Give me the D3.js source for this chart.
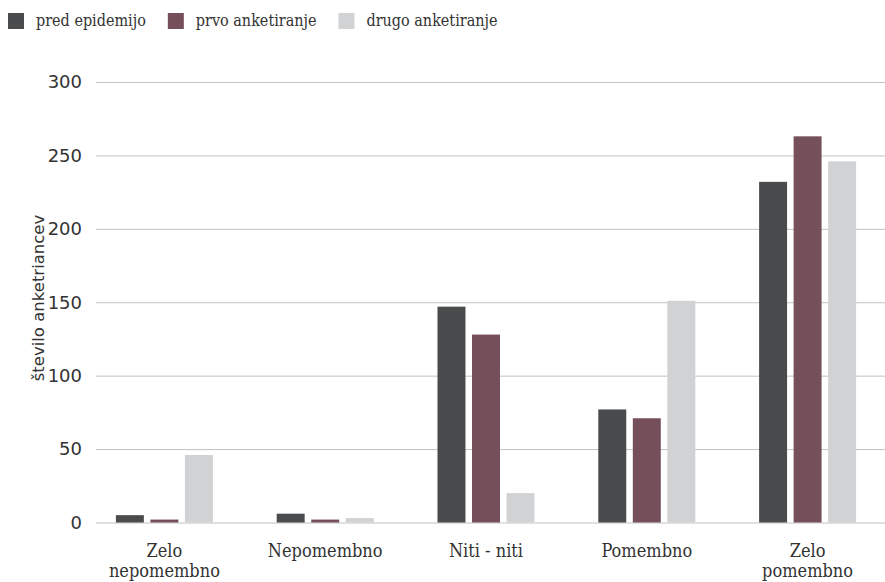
<!DOCTYPE html>
<html>
<head>
<meta charset="utf-8">
<script src="https://cdn.jsdelivr.net/npm/d3@7"></script>
<style>
  html, body { margin: 0; padding: 0; background: #fff; }
  svg { display: block; }
</style>
</head>
<body>
<div id="chart"></div>
<script>
// Pomembnost po kategorijah, trije zajemi podatkov
const categories = ["Zelo nepomembno", "Nepomembno", "Niti - niti", "Pomembno", "Zelo pomembno"];
const seriesNames = ["pred epidemijo", "prvo anketiranje", "drugo anketiranje"];
const predEpidemijo = [5, 6, 147, 77, 232];
const prvoAnketiranje = [2, 2, 128, 71, 263];
const drugoAnketiranje = [46, 3, 20, 151, 246];
const yTicks = [0, 50, 100, 150, 200, 250, 300];
const yTitle = "število anketriancev";
const colors = ["#4a4b4d", "#754f5a", "#d1d2d4"];

const seriesValues = [predEpidemijo, prvoAnketiranje, drugoAnketiranje];

const W = 885, H = 582;
const plot = { left: 96, right: 885, top: 82, bottom: 522.5 };

const svg = d3.select("#chart").append("svg")
  .attr("width", W).attr("height", H);

const x = d3.scaleBand().domain(categories).range([84, 888]).paddingInner(0).paddingOuter(0);
const groupWidth = 97;
const xs = d3.scaleBand().domain(seriesNames).range([0, groupWidth]).paddingInner(0.19);
const y = d3.scaleLinear().domain([0, 300]).range([plot.bottom, plot.top]);

const sansFont = "'DejaVu Sans', sans-serif";
const serifFont = "'DejaVu Serif Condensed', 'DejaVu Serif', serif";

// Mreža in oznake osi y
const yAxis = d3.axisLeft(y)
  .tickValues(yTicks)
  .tickSize(-(plot.right - plot.left))
  .tickPadding(14)
  .tickFormat(d3.format("d"));

const gy = svg.append("g")
  .attr("transform", `translate(${plot.left},0)`)
  .call(yAxis);
gy.select(".domain").remove();
gy.selectAll(".tick line").attr("stroke", "#c2c2c2").attr("stroke-width", 1);
gy.selectAll(".tick text")
  .attr("fill", "#333")
  .style("font-family", sansFont)
  .style("font-size", "18px");

// Stolpci
const groups = svg.append("g").selectAll("g")
  .data(categories)
  .join("g")
  .attr("transform", d => `translate(${x(d) + x.bandwidth() / 2 - groupWidth / 2},0)`);

groups.selectAll("rect")
  .data((c, i) => seriesNames.map((s, j) => ({ s, j, v: seriesValues[j][i] })))
  .join("rect")
  .attr("x", d => xs(d.s))
  .attr("width", xs.bandwidth())
  .attr("y", d => y(d.v))
  .attr("height", d => y(0) - y(d.v))
  .attr("fill", d => colors[d.j]);

// Oznake kategorij (prelom vrstic, kadar je besedilo preširoko)
const labels = svg.append("g").selectAll("text")
  .data(categories)
  .join("text")
  .attr("x", d => x(d) + x.bandwidth() / 2)
  .attr("y", 557)
  .attr("text-anchor", "middle")
  .attr("fill", "#333")
  .style("font-family", serifFont)
  .style("font-size", "18px");

labels.each(function (d) {
  const t = d3.select(this);
  const words = d.split(" ");
  const maxW = 110;
  let line = [];
  let tspan = t.append("tspan").attr("x", t.attr("x")).attr("dy", 0);
  words.forEach(w => {
    line.push(w);
    tspan.text(line.join(" "));
    if (tspan.node().getComputedTextLength() > maxW && line.length > 1) {
      line.pop();
      tspan.text(line.join(" "));
      line = [w];
      tspan = t.append("tspan").attr("x", t.attr("x")).attr("dy", 20).text(w);
    }
  });
});

// Naslov osi y
svg.append("text")
  .attr("transform", `translate(44,298) rotate(-90)`)
  .attr("text-anchor", "middle")
  .attr("fill", "#333")
  .style("font-family", sansFont)
  .style("font-size", "16.5px")
  .text(yTitle);

// Legenda
const legend = svg.append("g");
let lx = 8;
seriesNames.forEach((name, i) => {
  const g = legend.append("g").attr("transform", `translate(${lx},13)`);
  g.append("rect").attr("width", 16).attr("height", 16).attr("fill", colors[i]);
  const t = g.append("text")
    .attr("x", 28).attr("y", 13)
    .attr("fill", "#333")
    .style("font-family", serifFont)
    .style("font-size", "16px")
    .text(name);
  lx += 28 + t.node().getComputedTextLength() + 22;
});
</script>
</body>
</html>
